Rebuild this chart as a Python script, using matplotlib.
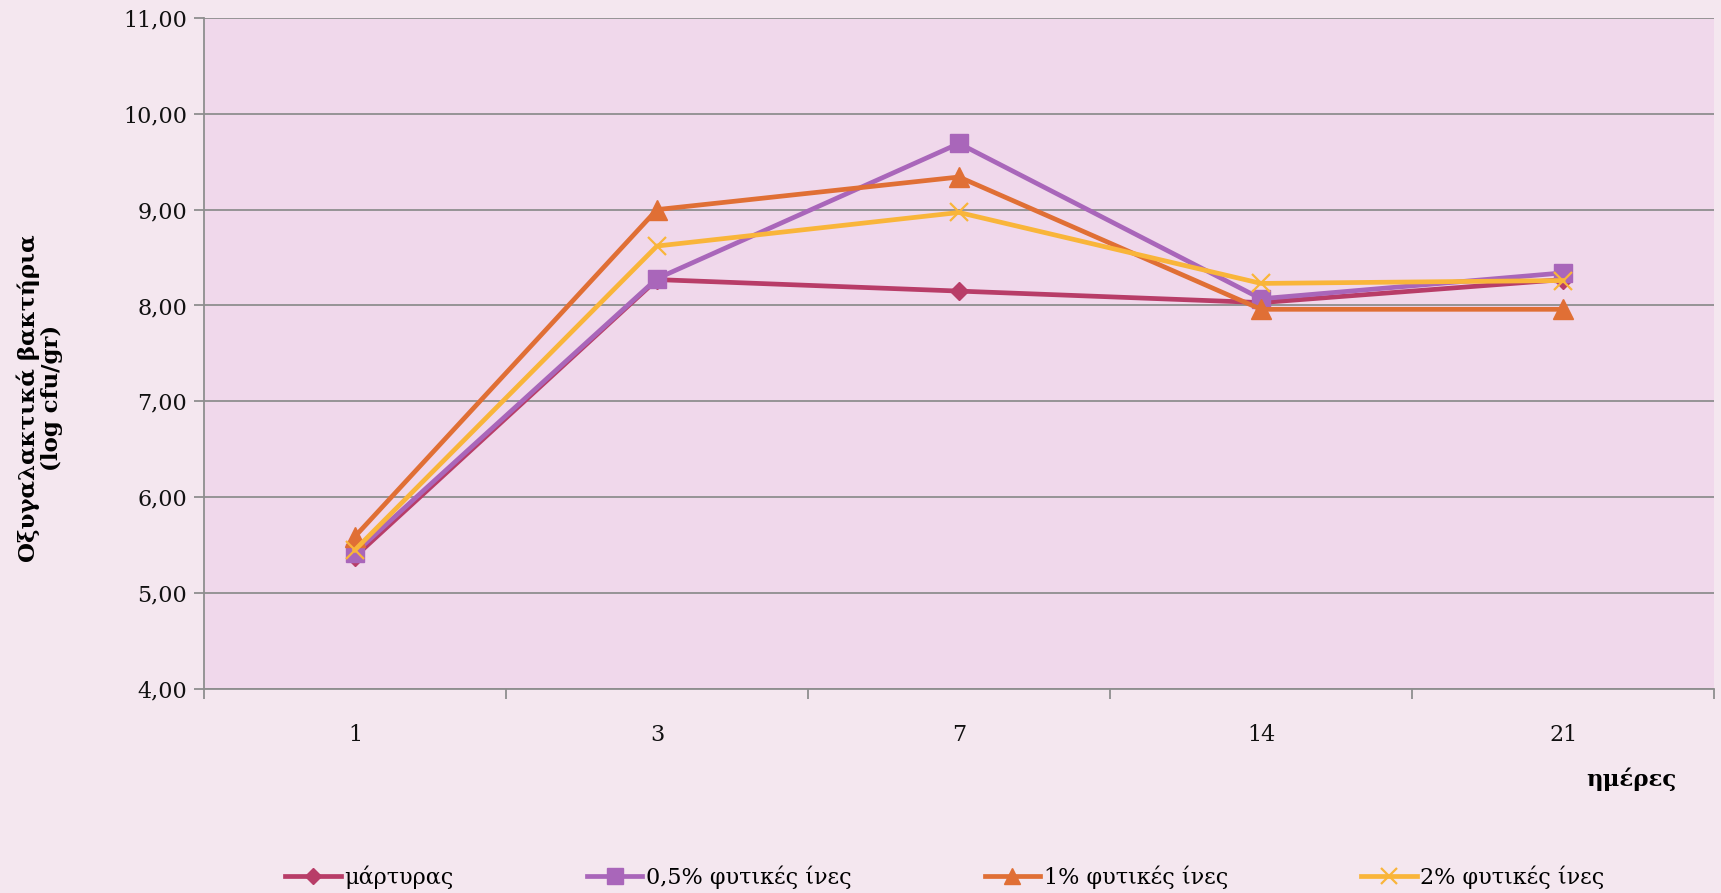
import matplotlib
matplotlib.use("Agg")
import matplotlib.pyplot as plt
from matplotlib.ticker import FixedLocator, FuncFormatter

# Data: lactic acid bacteria counts (log cfu/gr) over storage days
days = ["1", "3", "7", "14", "21"]
control = [5.38, 8.27, 8.15, 8.03, 8.27]
fiber_05 = [5.42, 8.28, 9.69, 8.07, 8.34]
fiber_1 = [5.59, 9.00, 9.34, 7.96, 7.96]
fiber_2 = [5.45, 8.62, 8.97, 8.23, 8.26]

series_labels = ["μάρτυρας", "0,5% φυτικές ίνες", "1% φυτικές ίνες", "2% φυτικές ίνες"]
y_ticks = [4, 5, 6, 7, 8, 9, 10, 11]

fig_bg = "#F4E7EF"
ax_bg = "#F0D8EB"
grid_col = "#8E8E8E"

fig = plt.figure(figsize=(17.21, 8.93), dpi=100, facecolor=fig_bg)
ax = fig.add_axes([0.1185, 0.2285, 0.8775, 0.7515], facecolor=ax_bg)

x = list(range(len(days)))
styles = [
    dict(color="#B83D68", marker="D", ms=9),
    dict(color="#A966BA", marker="s", ms=13),
    dict(color="#E06F35", marker="^", ms=14),
    dict(color="#F9B53A", marker="x", ms=13, mew=1.6),
]
for vals, lab, st in zip([control, fiber_05, fiber_1, fiber_2], series_labels, styles):
    ax.plot(x, vals, lw=3.4, label=lab, solid_joinstyle="round", **st)

ax.set_xlim(-0.5, len(days) - 0.5)
ax.set_ylim(4, 11)
ax.yaxis.set_major_locator(FixedLocator(y_ticks))
ax.yaxis.set_major_formatter(FuncFormatter(lambda v, p: f"{v:.2f}".replace(".", ",")))
ax.grid(axis="y", color=grid_col, lw=1.3)
ax.set_axisbelow(True)

ax.set_xticks(x)
ax.set_xticklabels(days)
ax.set_xticks([i - 0.5 for i in range(len(days) + 1)], minor=True)
ax.tick_params(axis="x", which="major", length=0, pad=25)
ax.tick_params(axis="x", which="minor", length=7, color=grid_col, width=1.3, direction="out")
ax.tick_params(axis="y", length=7, color=grid_col, width=1.3, direction="out", pad=5)

for lbl in ax.get_xticklabels() + ax.get_yticklabels():
    lbl.set_fontfamily("DejaVu Serif")
    lbl.set_fontsize(16)
    lbl.set_color("#111111")

for side in ["top", "right"]:
    ax.spines[side].set_visible(False)
for side in ["left", "bottom"]:
    ax.spines[side].set_color(grid_col)
    ax.spines[side].set_linewidth(1.3)

fig.text(0.023, 0.554, "Οξυγαλακτικά βακτήρια\n(log cfu/gr)", rotation=90,
         ha="center", va="center", fontsize=16.5, fontweight="bold",
         family="DejaVu Serif", linespacing=1.05)
fig.text(0.948, 0.127, "ημέρες", ha="center", va="center", fontsize=16.5,
         fontweight="bold", family="DejaVu Serif")

leg = fig.legend(loc="center", bbox_to_anchor=(0.549, 0.018), ncol=4, frameon=False,
                 prop={"family": "DejaVu Serif", "size": 16},
                 columnspacing=6.0, handlelength=2.5, handletextpad=0.15, markerscale=0.85)

fig.savefig("out.png", dpi=100, facecolor=fig_bg)
